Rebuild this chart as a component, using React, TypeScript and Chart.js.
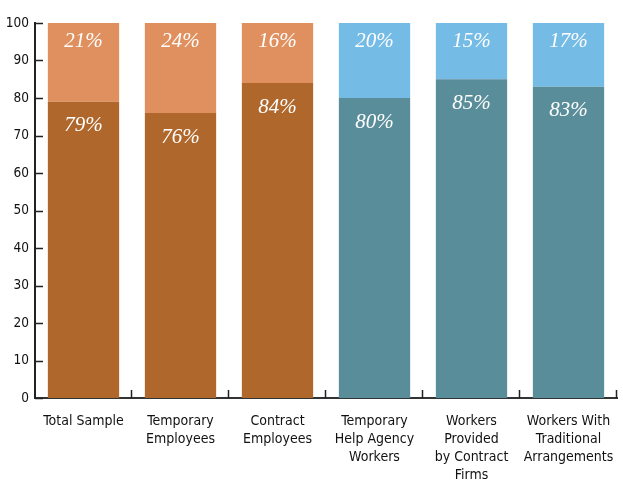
import React, { useEffect, useRef } from "react";
import { Chart, registerables } from "chart.js";

Chart.register(...registerables);

const categories: string[][] = [
  ["Total Sample"],
  ["Temporary", "Employees"],
  ["Contract", "Employees"],
  ["Temporary", "Help Agency", "Workers"],
  ["Workers", "Provided", "by Contract", "Firms"],
  ["Workers With", "Traditional", "Arrangements"],
];
const bottomValues = [79, 76, 84, 80, 85, 83];
const topValues = [21, 24, 16, 20, 15, 17];
const bottomColors = ["#B0672C", "#B0672C", "#B0672C", "#5A8D9A", "#5A8D9A", "#5A8D9A"];
const topColors = ["#E0905E", "#E0905E", "#E0905E", "#74BBE6", "#74BBE6", "#74BBE6"];
const yTicks = [0, 10, 20, 30, 40, 50, 60, 70, 80, 90, 100];

const LABEL_FONT = '"Liberation Sans Narrow", "DejaVu Sans Condensed", "Roboto Condensed", sans-serif';

const tickPlugin = {
  id: "innerTicks",
  afterDraw(chart: any) {
    const ctx = chart.ctx;
    const x = chart.scales.x;
    const y = chart.scales.y;
    ctx.save();
    ctx.strokeStyle = "#222";
    ctx.lineWidth = 1.5;
    ctx.beginPath();
    yTicks.forEach((v) => {
      const py = Math.round(y.getPixelForValue(v)) + 0.5;
      ctx.moveTo(x.left, py);
      ctx.lineTo(x.left + 8, py);
    });
    const n = categories.length;
    for (let i = 1; i <= n; i++) {
      const px = Math.round(x.left + (i * (x.right - x.left)) / n) - 0.5;
      ctx.moveTo(px, y.bottom);
      ctx.lineTo(px, y.bottom - 8);
    }
    ctx.stroke();
    ctx.restore();
  },
};

const valueLabelPlugin = {
  id: "valueLabels",
  afterDatasetsDraw(chart: any) {
    const ctx = chart.ctx;
    ctx.save();
    ctx.fillStyle = "#FFFFFF";
    ctx.font = 'italic 21px "Liberation Serif", "DejaVu Serif", serif';
    ctx.textAlign = "center";
    ctx.textBaseline = "middle";
    chart.data.datasets.forEach((ds: any, di: number) => {
      const meta = chart.getDatasetMeta(di);
      meta.data.forEach((bar: any, i: number) => {
        const off = di === 0 ? 24 : 18;
        ctx.fillText(ds.data[i] + "%", bar.x, bar.y + off);
      });
    });
    ctx.restore();
  },
};

export default function App() {
  const ref = useRef<HTMLCanvasElement>(null);
  useEffect(() => {
    if (!ref.current) return;
    const chart = new Chart(ref.current, {
      type: "bar",
      data: {
        labels: categories,
        datasets: [
          { data: bottomValues, backgroundColor: bottomColors, barPercentage: 0.735, categoryPercentage: 1 },
          { data: topValues, backgroundColor: topColors, barPercentage: 0.735, categoryPercentage: 1 },
        ],
      },
      options: {
        animation: false,
        responsive: false,
        maintainAspectRatio: false,
        layout: { padding: { top: 23, right: 6, left: 0, bottom: 0 } },
        plugins: { legend: { display: false }, tooltip: { enabled: false } },
        scales: {
          x: {
            stacked: true,
            grid: { display: false, drawTicks: false },
            border: { display: true, color: "#333", width: 2 },
            ticks: {
              color: "#111",
              font: { family: LABEL_FONT, size: 14, lineHeight: 1.3 },
              padding: 14,
              maxRotation: 0,
              autoSkip: false,
            },
            afterFit(scale: any) {
              scale.height = 87;
              scale.paddingLeft = 0;
              scale.paddingRight = 0;
            },
          },
          y: {
            stacked: true,
            min: 0,
            max: 100,
            grid: { display: false, drawTicks: false },
            border: { display: true, color: "#222", width: 2 },
            ticks: {
              stepSize: 10,
              color: "#111",
              font: { family: LABEL_FONT, size: 13.5 },
              padding: 6,
            },
            afterFit(scale: any) {
              scale.width = 35;
              scale.paddingTop = 0;
              scale.paddingBottom = 0;
            },
          },
        },
      },
      plugins: [tickPlugin, valueLabelPlugin],
    });
    return () => chart.destroy();
  }, []);
  return (
    <div style={{ position: "fixed", left: 0, top: 0, width: 623, height: 485, background: "#fff" }}>
      <canvas ref={ref} width={623} height={485} style={{ width: 623, height: 485, display: "block" }} />
    </div>
  );
}
